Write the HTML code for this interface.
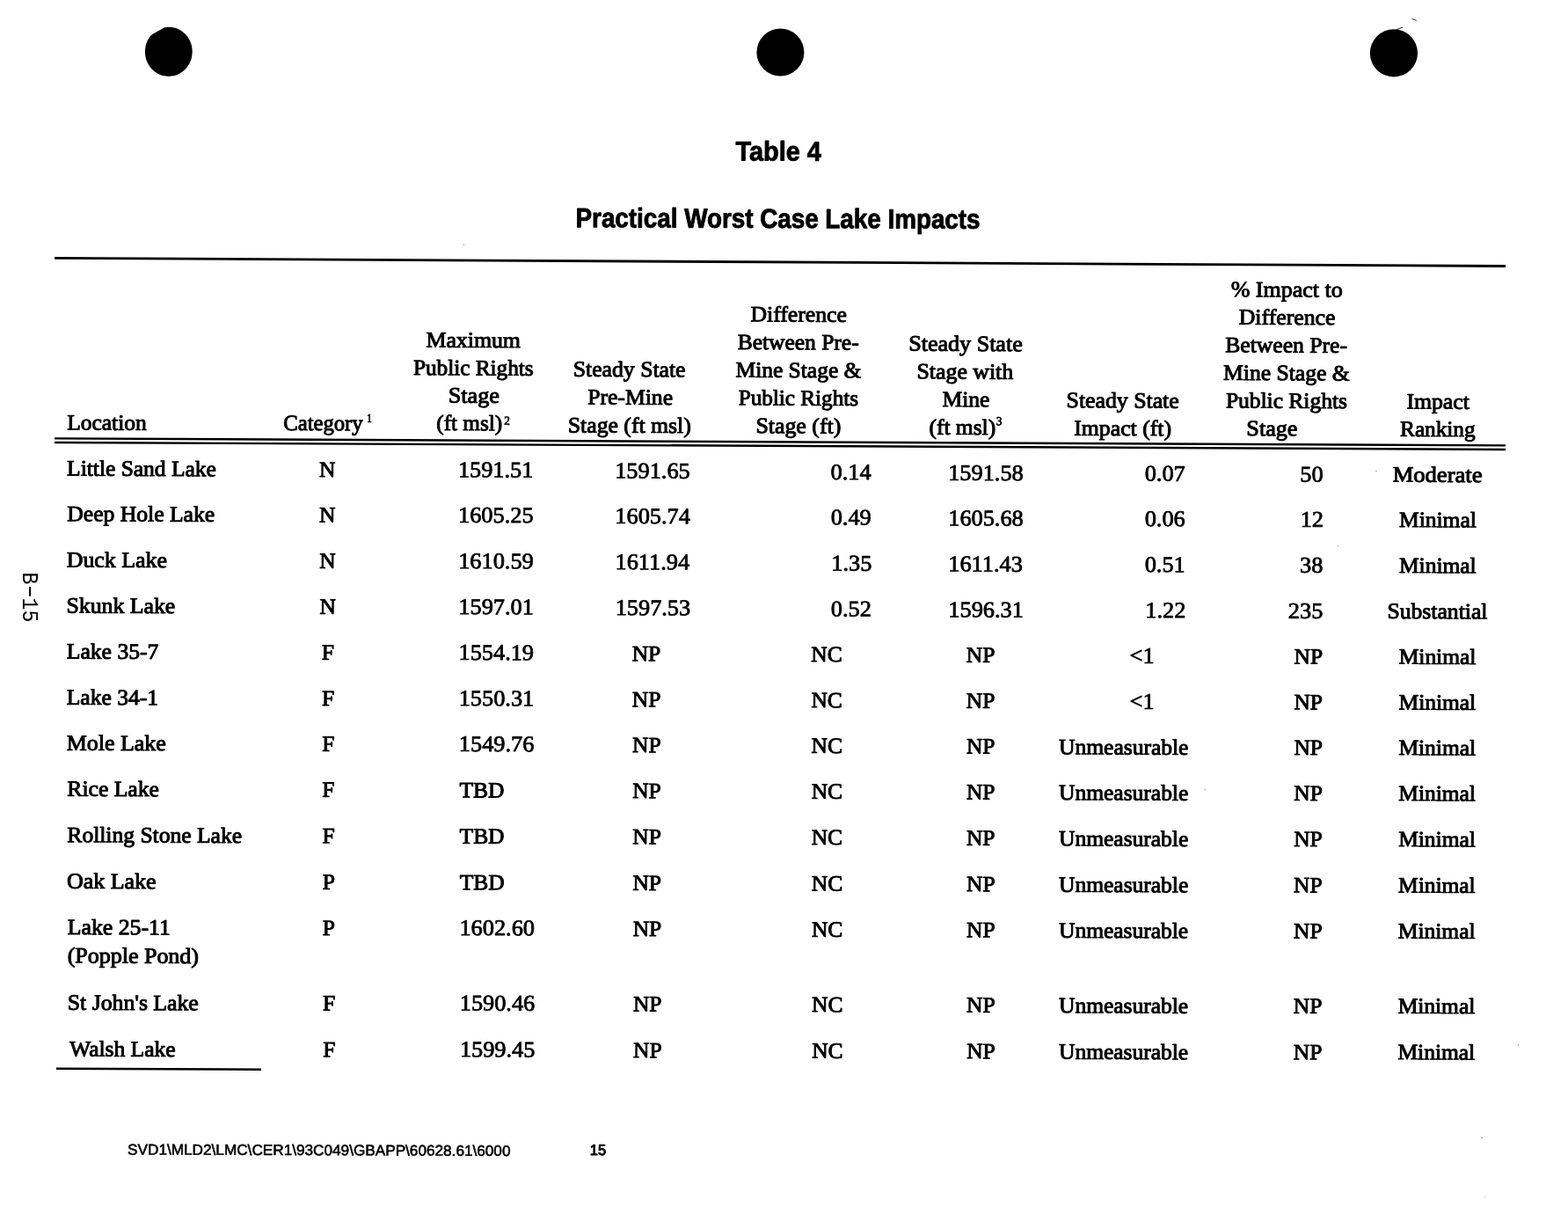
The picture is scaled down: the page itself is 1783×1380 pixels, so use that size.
<!DOCTYPE html>
<html lang="en"><head><meta charset="utf-8"><title>Table 4 - Practical Worst Case Lake Impacts</title>
<style>
html,body{margin:0;padding:0;background:#fff;}
body{width:1783px;height:1380px;overflow:hidden;position:relative;}
svg{position:absolute;left:0;top:0;display:block;}
text{fill:#000;stroke:#000;stroke-width:1.0px;stroke-linejoin:round;white-space:pre;}
.s{font-family:"Liberation Serif",serif;font-size:25px;}
.b{font-family:"Liberation Sans",sans-serif;font-weight:bold;font-size:31px;stroke-width:0.9px;}
.a{font-family:"Liberation Sans",sans-serif;font-size:17px;stroke-width:0.25px;}
.m{font-family:"Liberation Mono",monospace;font-size:26px;stroke-width:0;}
line{stroke:#000;}
</style></head><body>
<svg width="1783" height="1380" viewBox="0 0 1783 1380">
<!-- punch holes -->
<polygon points="218.7,58.8 218.6,60.7 218.4,62.6 218.1,64.6 217.7,66.5 217.1,68.3 216.4,70.1 215.6,71.9 214.6,73.6 213.6,75.2 212.4,76.7 211.2,78.2 209.8,79.6 208.4,80.8 206.8,82.0 205.2,83.0 203.6,83.9 201.9,84.7 200.1,85.4 198.3,85.9 196.5,86.3 194.6,86.6 192.7,86.7 190.9,86.7 189.0,86.6 187.1,86.3 185.3,85.9 183.5,85.4 181.7,84.7 180.0,83.9 178.4,83.0 176.8,82.0 175.2,80.8 173.8,79.6 172.4,78.2 171.2,76.7 170.0,75.2 169.0,73.6 168.0,71.9 167.2,70.1 166.5,68.3 165.9,66.5 165.5,64.6 165.2,62.6 165.0,60.7 164.9,58.8 165.0,56.8 165.2,54.9 165.5,52.9 165.9,51.0 166.5,49.2 167.2,47.4 168.0,45.6 169.0,43.9 170.0,42.3 171.2,40.8 172.5,39.4 174.1,38.5 175.7,37.6 177.4,36.7 179.0,35.8 180.7,34.8 182.4,33.9 184.0,33.0 185.6,32.1 187.2,31.3 189.0,30.9 190.9,30.8 192.7,30.8 194.6,30.9 196.5,31.2 198.3,31.6 200.1,32.1 201.9,32.8 203.6,33.6 205.2,34.5 206.8,35.5 208.4,36.7 209.8,37.9 211.2,39.3 212.4,40.8 213.6,42.3 214.6,43.9 215.6,45.6 216.4,47.4 217.1,49.2 217.7,51.0 218.1,52.9 218.4,54.9 218.6,56.8" fill="#000"/>
<circle cx="887.4" cy="59.5" r="27" fill="#000"/>
<circle cx="1584.9" cy="60.3" r="27.1" fill="#000"/>
<line x1="1587" y1="34" x2="1595.2" y2="31" stroke-width="0.9"/>
<line x1="1605.4" y1="21.2" x2="1610.8" y2="23.4" stroke-width="0.8" stroke="#444"/>
<!-- rules -->
<line x1="62" y1="293.4" x2="1712" y2="302.5" stroke-width="2.8"/>
<line x1="62" y1="498.4" x2="1712" y2="506.35" stroke-width="2.45"/>
<line x1="62" y1="502.95" x2="1712" y2="510.95" stroke-width="2.45"/>
<line x1="64" y1="1214.8" x2="297" y2="1215.8" stroke-width="2.5"/>
<!-- scanner specks -->
<g fill="#8a8a8a"><circle cx="1564.9" cy="535.7" r="0.8"/><circle cx="1521.2" cy="620.6" r="0.7"/><circle cx="1370.3" cy="897.8" r="0.7"/><circle cx="1726.6" cy="1188" r="0.7"/><circle cx="1685" cy="1293.4" r="0.8"/><circle cx="1689" cy="1361" r="0.6"/><circle cx="527.5" cy="278" r="0.7"/></g>
<!-- text -->
<text class="b" transform="translate(836.59 182.40) rotate(0.2) scale(0.9294 1)">Table 4</text>
<text class="b" transform="translate(654.54 258.20) rotate(0.2) scale(0.8973 1)">Practical Worst Case Lake Impacts</text>
<text class="s" transform="translate(76.18 488.40) rotate(0.27) scale(1.0196 1)">Location</text>
<text class="s" transform="translate(322.28 488.90) rotate(0.27) scale(0.9856 1)">Category</text>
<text class="s" transform="translate(484.47 394.60) rotate(0.27) scale(1.0322 1)">Maximum</text>
<text class="s" transform="translate(469.98 426.10) rotate(0.27) scale(1.0095 1)">Public Rights</text>
<text class="s" transform="translate(509.77 457.60) rotate(0.27) scale(1.0462 1)">Stage</text>
<text class="s" transform="translate(496.30 488.90) rotate(0.27) scale(1.0069 1)">(ft msl)</text>
<text class="s" transform="translate(651.79 427.70) rotate(0.27) scale(1.0282 1)">Steady State</text>
<text class="s" transform="translate(668.17 459.50) rotate(0.27) scale(1.0263 1)">Pre-Mine</text>
<text class="s" transform="translate(645.79 491.40) rotate(0.27) scale(1.0289 1)">Stage (ft msl)</text>
<text class="s" transform="translate(853.57 365.30) rotate(0.27) scale(1.0272 1)">Difference</text>
<text class="s" transform="translate(838.68 396.90) rotate(0.27) scale(1.0197 1)">Between Pre-</text>
<text class="s" transform="translate(836.48 428.60) rotate(0.27) scale(1.0194 1)">Mine Stage &amp;</text>
<text class="s" transform="translate(839.68 460.30) rotate(0.27) scale(1.0073 1)">Public Rights</text>
<text class="s" transform="translate(859.39 492.10) rotate(0.27) scale(1.0343 1)">Stage (ft)</text>
<text class="s" transform="translate(1033.28 398.60) rotate(0.27) scale(1.0420 1)">Steady State</text>
<text class="s" transform="translate(1042.49 430.30) rotate(0.27) scale(1.0329 1)">Stage with</text>
<text class="s" transform="translate(1071.58 462.10) rotate(0.27) scale(1.0214 1)">Mine</text>
<text class="s" transform="translate(1056.39 493.70) rotate(0.27) scale(1.0206 1)">(ft msl)</text>
<text class="s" transform="translate(1212.59 463.10) rotate(0.27) scale(1.0314 1)">Steady State</text>
<text class="s" transform="translate(1221.28 494.70) rotate(0.27) scale(1.0293 1)">Impact (ft)</text>
<text class="s" transform="translate(1399.73 337.00) rotate(0.27) scale(1.0389 1)">% Impact to</text>
<text class="s" transform="translate(1408.77 368.60) rotate(0.27) scale(1.0310 1)">Difference</text>
<text class="s" transform="translate(1393.27 400.20) rotate(0.27) scale(1.0249 1)">Between Pre-</text>
<text class="s" transform="translate(1391.07 431.80) rotate(0.27) scale(1.0244 1)">Mine Stage &amp;</text>
<text class="s" transform="translate(1393.88 463.40) rotate(0.27) scale(1.0199 1)">Public Rights</text>
<text class="s" transform="translate(1417.37 495.10) rotate(0.27) scale(1.0462 1)">Stage</text>
<text class="s" transform="translate(1599.38 464.40) rotate(0.27) scale(1.0294 1)">Impact</text>
<text class="s" transform="translate(1592.08 495.80) rotate(0.27) scale(1.0092 1)">Ranking</text>
<text class="s" transform="translate(416.95 479.90) rotate(0.27) scale(0.8500 1)" style="font-size:14px;stroke-width:0.7px;">1</text>
<text class="s" transform="translate(573.35 482.70) rotate(0.27) scale(0.9500 1)" style="font-size:14px;stroke-width:0.7px;">2</text>
<text class="s" transform="translate(1132.70 483.20) rotate(0.27) scale(0.9500 1)" style="font-size:14px;stroke-width:0.7px;">3</text>
<text class="s" transform="translate(76.08 540.53) rotate(0.27) scale(1.0197 1)">Little Sand Lake</text>
<text class="s" transform="translate(362.94 541.95) rotate(0.27) scale(1.0180 1)">N</text>
<text class="s" transform="translate(520.90 542.18) rotate(0.27) scale(1.0320 1)" style="font-size:25.5px;stroke-width:0.8px;">1591.51</text>
<text class="s" transform="translate(699.20 543.33) rotate(0.27) scale(1.0320 1)" style="font-size:25.5px;stroke-width:0.8px;">1591.65</text>
<text class="s" transform="translate(944.61 544.90) rotate(0.27) scale(1.0320 1)" style="font-size:25.5px;stroke-width:0.8px;">0.14</text>
<text class="s" transform="translate(1078.20 545.75) rotate(0.27) scale(1.0320 1)" style="font-size:25.5px;stroke-width:0.8px;">1591.58</text>
<text class="s" transform="translate(1301.71 546.52) rotate(0.27) scale(1.0320 1)" style="font-size:25.5px;stroke-width:0.8px;">0.07</text>
<text class="s" transform="translate(1478.27 547.38) rotate(0.27) scale(1.0320 1)" style="font-size:25.5px;stroke-width:0.8px;">50</text>
<text class="s" transform="translate(1583.67 547.61) rotate(0.27) scale(1.0630 1)">Moderate</text>
<text class="s" transform="translate(76.37 592.13) rotate(0.27) scale(1.0250 1)">Deep Hole Lake</text>
<text class="s" transform="translate(363.09 593.50) rotate(0.27) scale(1.0180 1)">N</text>
<text class="s" transform="translate(521.05 593.70) rotate(0.27) scale(1.0320 1)" style="font-size:25.5px;stroke-width:0.8px;">1605.25</text>
<text class="s" transform="translate(699.35 594.83) rotate(0.27) scale(1.0320 1)" style="font-size:25.5px;stroke-width:0.8px;">1605.74</text>
<text class="s" transform="translate(944.70 596.36) rotate(0.27) scale(1.0320 1)" style="font-size:25.5px;stroke-width:0.8px;">0.49</text>
<text class="s" transform="translate(1078.24 597.18) rotate(0.27) scale(1.0320 1)" style="font-size:25.5px;stroke-width:0.8px;">1605.68</text>
<text class="s" transform="translate(1301.68 597.91) rotate(0.27) scale(1.0320 1)" style="font-size:25.5px;stroke-width:0.8px;">0.06</text>
<text class="s" transform="translate(1478.63 598.74) rotate(0.27) scale(1.0320 1)" style="font-size:25.5px;stroke-width:0.8px;">12</text>
<text class="s" transform="translate(1591.12 598.95) rotate(0.27) scale(1.0180 1)">Minimal</text>
<text class="s" transform="translate(75.77 644.43) rotate(0.27) scale(1.0348 1)">Duck Lake</text>
<text class="s" transform="translate(363.25 645.75) rotate(0.27) scale(1.0180 1)">N</text>
<text class="s" transform="translate(521.21 645.92) rotate(0.27) scale(1.0320 1)" style="font-size:25.5px;stroke-width:0.8px;">1610.59</text>
<text class="s" transform="translate(699.51 647.02) rotate(0.27) scale(1.0320 1)" style="font-size:25.5px;stroke-width:0.8px;">1611.94</text>
<text class="s" transform="translate(945.37 648.51) rotate(0.27) scale(1.0320 1)" style="font-size:25.5px;stroke-width:0.8px;">1.35</text>
<text class="s" transform="translate(1078.29 649.31) rotate(0.27) scale(1.0320 1)" style="font-size:25.5px;stroke-width:0.8px;">1611.43</text>
<text class="s" transform="translate(1301.65 650.00) rotate(0.27) scale(1.0320 1)" style="font-size:25.5px;stroke-width:0.8px;">0.51</text>
<text class="s" transform="translate(1478.08 650.79) rotate(0.27) scale(1.0320 1)" style="font-size:25.5px;stroke-width:0.8px;">38</text>
<text class="s" transform="translate(1590.98 650.98) rotate(0.27) scale(1.0180 1)">Minimal</text>
<text class="s" transform="translate(75.39 696.53) rotate(0.27) scale(1.0322 1)">Skunk Lake</text>
<text class="s" transform="translate(363.40 697.80) rotate(0.27) scale(1.0180 1)">N</text>
<text class="s" transform="translate(521.37 697.95) rotate(0.27) scale(1.0320 1)" style="font-size:25.5px;stroke-width:0.8px;">1597.01</text>
<text class="s" transform="translate(699.67 699.01) rotate(0.27) scale(1.0320 1)" style="font-size:25.5px;stroke-width:0.8px;">1597.53</text>
<text class="s" transform="translate(944.87 700.46) rotate(0.27) scale(1.0320 1)" style="font-size:25.5px;stroke-width:0.8px;">0.52</text>
<text class="s" transform="translate(1078.33 701.23) rotate(0.27) scale(1.0320 1)" style="font-size:25.5px;stroke-width:0.8px;">1596.31</text>
<text class="s" transform="translate(1302.31 701.90) rotate(0.27) scale(1.0320 1)" style="font-size:25.5px;stroke-width:0.8px;">1.22</text>
<text class="s" transform="translate(1464.85 702.65) rotate(0.27) scale(1.0320 1)" style="font-size:25.5px;stroke-width:0.8px;">235</text>
<text class="s" transform="translate(1577.43 702.81) rotate(0.27) scale(1.0269 1)">Substantial</text>
<text class="s" transform="translate(75.77 748.53) rotate(0.27) scale(1.0256 1)">Lake 35-7</text>
<text class="s" transform="translate(365.84 749.75) rotate(0.27) scale(1.0180 1)">F</text>
<text class="s" transform="translate(521.52 749.87) rotate(0.27) scale(1.0320 1)" style="font-size:25.5px;stroke-width:0.8px;">1554.19</text>
<text class="s" transform="translate(718.70 751.17) rotate(0.27) scale(1.0180 1)">NP</text>
<text class="s" transform="translate(922.35 752.01) rotate(0.27) scale(1.0180 1)">NC</text>
<text class="s" transform="translate(1098.82 752.74) rotate(0.27) scale(1.0180 1)">NP</text>
<text class="s" transform="translate(1284.60 753.61) rotate(0.27) scale(1.0320 1)" style="font-size:25.5px;stroke-width:0.8px;">&lt;1</text>
<text class="s" transform="translate(1471.59 754.40) rotate(0.27) scale(1.0180 1)">NP</text>
<text class="s" transform="translate(1590.70 754.54) rotate(0.27) scale(1.0180 1)">Minimal</text>
<text class="s" transform="translate(75.77 800.73) rotate(0.27) scale(1.0226 1)">Lake 34-1</text>
<text class="s" transform="translate(366.00 801.90) rotate(0.27) scale(1.0180 1)">F</text>
<text class="s" transform="translate(521.68 801.99) rotate(0.27) scale(1.0320 1)" style="font-size:25.5px;stroke-width:0.8px;">1550.31</text>
<text class="s" transform="translate(718.86 803.26) rotate(0.27) scale(1.0180 1)">NP</text>
<text class="s" transform="translate(922.45 804.07) rotate(0.27) scale(1.0180 1)">NC</text>
<text class="s" transform="translate(1098.86 804.76) rotate(0.27) scale(1.0180 1)">NP</text>
<text class="s" transform="translate(1284.58 805.60) rotate(0.27) scale(1.0320 1)" style="font-size:25.5px;stroke-width:0.8px;">&lt;1</text>
<text class="s" transform="translate(1471.50 806.36) rotate(0.27) scale(1.0180 1)">NP</text>
<text class="s" transform="translate(1590.56 806.48) rotate(0.27) scale(1.0180 1)">Minimal</text>
<text class="s" transform="translate(75.77 852.63) rotate(0.27) scale(1.0378 1)">Mole Lake</text>
<text class="s" transform="translate(366.15 853.75) rotate(0.27) scale(1.0180 1)">F</text>
<text class="s" transform="translate(521.84 853.82) rotate(0.27) scale(1.0320 1)" style="font-size:25.5px;stroke-width:0.8px;">1549.76</text>
<text class="s" transform="translate(719.01 855.05) rotate(0.27) scale(1.0180 1)">NP</text>
<text class="s" transform="translate(922.54 855.82) rotate(0.27) scale(1.0180 1)">NC</text>
<text class="s" transform="translate(1098.90 856.49) rotate(0.27) scale(1.0180 1)">NP</text>
<text class="s" transform="translate(1204.09 857.16) rotate(0.27) scale(1.0203 1)">Unmeasurable</text>
<text class="s" transform="translate(1471.40 858.01) rotate(0.27) scale(1.0180 1)">NP</text>
<text class="s" transform="translate(1590.43 858.11) rotate(0.27) scale(1.0180 1)">Minimal</text>
<text class="s" transform="translate(76.37 904.73) rotate(0.27) scale(1.0252 1)">Rice Lake</text>
<text class="s" transform="translate(366.31 905.80) rotate(0.27) scale(1.0180 1)">F</text>
<text class="s" transform="translate(522.44 906.33) rotate(0.27) scale(1.0180 1)">TBD</text>
<text class="s" transform="translate(719.17 907.04) rotate(0.27) scale(1.0180 1)">NP</text>
<text class="s" transform="translate(922.64 907.77) rotate(0.27) scale(1.0180 1)">NC</text>
<text class="s" transform="translate(1098.93 908.41) rotate(0.27) scale(1.0180 1)">NP</text>
<text class="s" transform="translate(1204.09 909.05) rotate(0.27) scale(1.0199 1)">Unmeasurable</text>
<text class="s" transform="translate(1471.30 909.87) rotate(0.27) scale(1.0180 1)">NP</text>
<text class="s" transform="translate(1590.29 909.94) rotate(0.27) scale(1.0180 1)">Minimal</text>
<text class="s" transform="translate(76.37 957.13) rotate(0.27) scale(1.0225 1)">Rolling Stone Lake</text>
<text class="s" transform="translate(366.47 958.14) rotate(0.27) scale(1.0180 1)">F</text>
<text class="s" transform="translate(522.60 958.66) rotate(0.27) scale(1.0180 1)">TBD</text>
<text class="s" transform="translate(719.33 959.33) rotate(0.27) scale(1.0180 1)">NP</text>
<text class="s" transform="translate(922.73 960.03) rotate(0.27) scale(1.0180 1)">NC</text>
<text class="s" transform="translate(1098.97 960.63) rotate(0.27) scale(1.0180 1)">NP</text>
<text class="s" transform="translate(1204.09 961.24) rotate(0.27) scale(1.0196 1)">Unmeasurable</text>
<text class="s" transform="translate(1471.21 962.02) rotate(0.27) scale(1.0180 1)">NP</text>
<text class="s" transform="translate(1590.15 962.07) rotate(0.27) scale(1.0180 1)">Minimal</text>
<text class="s" transform="translate(76.05 1009.73) rotate(0.27) scale(1.0374 1)">Oak Lake</text>
<text class="s" transform="translate(366.67 1010.69) rotate(0.27) scale(1.0180 1)">P</text>
<text class="s" transform="translate(522.76 1011.18) rotate(0.27) scale(1.0180 1)">TBD</text>
<text class="s" transform="translate(719.48 1011.82) rotate(0.27) scale(1.0180 1)">NP</text>
<text class="s" transform="translate(922.83 1012.48) rotate(0.27) scale(1.0180 1)">NC</text>
<text class="s" transform="translate(1099.01 1013.06) rotate(0.27) scale(1.0180 1)">NP</text>
<text class="s" transform="translate(1204.10 1013.64) rotate(0.27) scale(1.0192 1)">Unmeasurable</text>
<text class="s" transform="translate(1471.11 1014.37) rotate(0.27) scale(1.0180 1)">NP</text>
<text class="s" transform="translate(1590.01 1014.40) rotate(0.27) scale(1.0180 1)">Minimal</text>
<text class="s" transform="translate(76.77 1062.03) rotate(0.27) scale(1.0303 1)">Lake 25-11</text>
<text class="s" transform="translate(366.83 1062.94) rotate(0.27) scale(1.0180 1)">P</text>
<text class="s" transform="translate(522.46 1062.91) rotate(0.27) scale(1.0320 1)" style="font-size:25.5px;stroke-width:0.8px;">1602.60</text>
<text class="s" transform="translate(719.64 1064.01) rotate(0.27) scale(1.0180 1)">NP</text>
<text class="s" transform="translate(922.93 1064.64) rotate(0.27) scale(1.0180 1)">NC</text>
<text class="s" transform="translate(1099.04 1065.18) rotate(0.27) scale(1.0180 1)">NP</text>
<text class="s" transform="translate(1204.10 1065.73) rotate(0.27) scale(1.0189 1)">Unmeasurable</text>
<text class="s" transform="translate(1471.01 1066.43) rotate(0.27) scale(1.0180 1)">NP</text>
<text class="s" transform="translate(1589.87 1066.43) rotate(0.27) scale(1.0180 1)">Minimal</text>
<text class="s" transform="translate(76.79 1147.70) rotate(0.27) scale(1.0298 1)">St John&#x27;s Lake</text>
<text class="s" transform="translate(367.04 1148.53) rotate(0.27) scale(1.0180 1)">F</text>
<text class="s" transform="translate(522.72 1148.45) rotate(0.27) scale(1.0320 1)" style="font-size:25.5px;stroke-width:0.8px;">1590.46</text>
<text class="s" transform="translate(719.90 1149.50) rotate(0.27) scale(1.0180 1)">NP</text>
<text class="s" transform="translate(923.08 1150.07) rotate(0.27) scale(1.0180 1)">NC</text>
<text class="s" transform="translate(1099.11 1150.56) rotate(0.27) scale(1.0180 1)">NP</text>
<text class="s" transform="translate(1204.10 1151.06) rotate(0.27) scale(1.0184 1)">Unmeasurable</text>
<text class="s" transform="translate(1470.86 1151.69) rotate(0.27) scale(1.0180 1)">NP</text>
<text class="s" transform="translate(1589.64 1151.66) rotate(0.27) scale(1.0180 1)">Minimal</text>
<text class="s" transform="translate(79.09 1200.40) rotate(0.27) scale(1.0213 1)">Walsh Lake</text>
<text class="s" transform="translate(367.20 1201.18) rotate(0.27) scale(1.0180 1)">F</text>
<text class="s" transform="translate(522.88 1201.07) rotate(0.27) scale(1.0320 1)" style="font-size:25.5px;stroke-width:0.8px;">1599.45</text>
<text class="s" transform="translate(720.06 1202.08) rotate(0.27) scale(1.0180 1)">NP</text>
<text class="s" transform="translate(923.18 1202.62) rotate(0.27) scale(1.0180 1)">NC</text>
<text class="s" transform="translate(1099.14 1203.08) rotate(0.27) scale(1.0180 1)">NP</text>
<text class="s" transform="translate(1204.10 1203.55) rotate(0.27) scale(1.0180 1)">Unmeasurable</text>
<text class="s" transform="translate(1470.76 1204.14) rotate(0.27) scale(1.0180 1)">NP</text>
<text class="s" transform="translate(1589.50 1204.09) rotate(0.27) scale(1.0180 1)">Minimal</text>
<text class="s" transform="translate(76.68 1094.30) rotate(0.27) scale(1.0389 1)">(Popple Pond)</text>
<text class="a" transform="translate(145.12 1312.40) rotate(0.2) scale(1.0115 1)" style="stroke-width:0.6px;">SVD1\MLD2\LMC\CER1\93C049\GBAPP\60628.61\6000</text>
<text class="a" transform="translate(670.83 1313.00) rotate(0.2) scale(0.9720 1)" style="stroke-width:1.0px;">15</text>
<text class="m" transform="translate(25.5 650.4) rotate(90) scale(0.89 1)">B<tspan dx="-4.2" dy="-1.6" textLength="26.66" lengthAdjust="spacingAndGlyphs">-</tspan><tspan dx="-5.3" dy="1.6">15</tspan></text>
</svg>
</body></html>
